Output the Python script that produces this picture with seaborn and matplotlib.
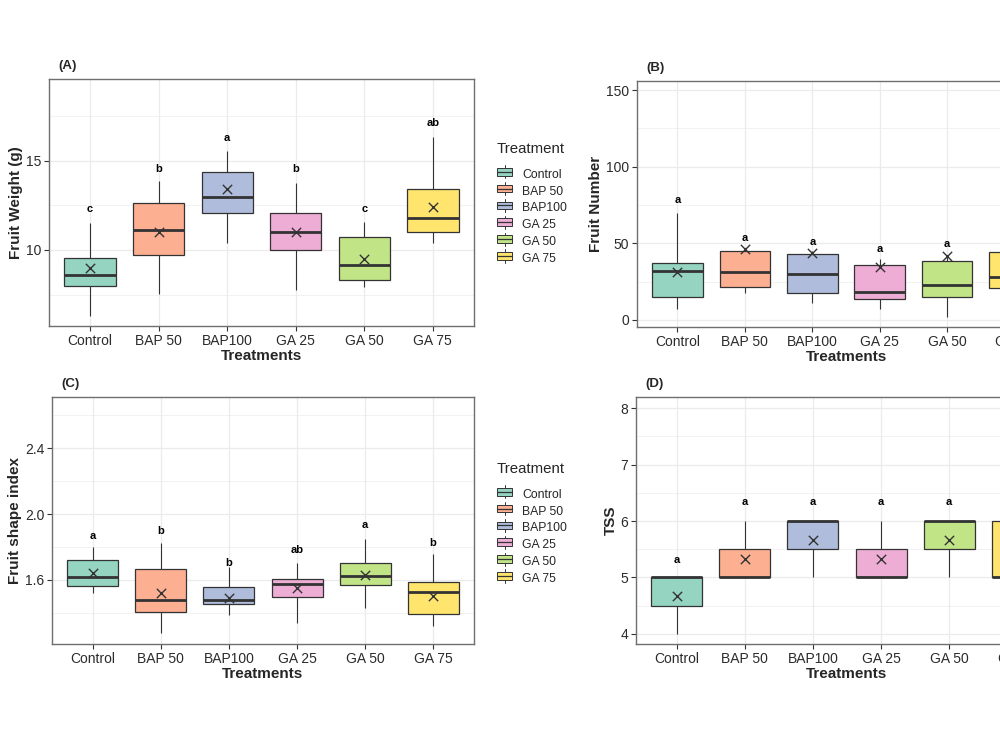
import numpy as np
import pandas as pd
import matplotlib
matplotlib.use("Agg")
import matplotlib.pyplot as plt
from matplotlib.legend_handler import HandlerBase
from matplotlib.patches import Rectangle, Patch
from matplotlib.lines import Line2D
from matplotlib.ticker import FixedLocator, FormatStrFormatter
import seaborn as sns

# ---------------- data ----------------
treatments = ["Control", "BAP 50", "BAP100", "GA 25", "GA 50", "GA 75"]

# (A) Fruit weight (g)
fw_low = [6.33, 7.52, 10.37, 7.77, 7.91, 10.41]
fw_q1 = [7.99, 9.72, 12.05, 10.00, 8.32, 11.02]
fw_med = [8.60, 11.12, 12.98, 11.00, 9.14, 11.81]
fw_q3 = [9.57, 12.61, 14.38, 12.08, 10.74, 13.39]
fw_high = [11.53, 13.85, 15.53, 13.76, 11.58, 16.30]
fw_mean = [8.98, 11.02, 13.41, 10.98, 9.48, 12.39]
fw_letters = ["c", "b", "a", "b", "c", "ab"]
fw_letter_y = [12.29, 14.52, 16.24, 14.52, 12.29, 17.08]

# (B) Fruit number
fn_low = [7.0, 17.8, 10.9, 7.0, 2.2, 12.0]
fn_q1 = [14.8, 21.7, 17.8, 13.5, 14.8, 20.7]
fn_med = [32.0, 31.1, 30.0, 18.5, 22.6, 28.0]
fn_q3 = [37.0, 45.0, 43.3, 35.7, 38.7, 44.4]
fn_high = [70.0, 47.0, 45.0, 39.8, 42.0, 60.0]
fn_mean = [31.3, 46.6, 44.0, 34.3, 41.7, 33.0]
fn_letters = ["a", "a", "a", "a", "a", "a"]
fn_letter_y = [78.3, 53.7, 50.7, 46.1, 49.6, 68.0]

# (C) Fruit shape index
fsi_low = [1.523, 1.276, 1.385, 1.337, 1.432, 1.321]
fsi_q1 = [1.564, 1.406, 1.454, 1.499, 1.570, 1.393]
fsi_med = [1.616, 1.478, 1.478, 1.574, 1.624, 1.525]
fsi_q3 = [1.722, 1.669, 1.556, 1.608, 1.701, 1.588]
fsi_high = [1.802, 1.823, 1.681, 1.705, 1.849, 1.758]
fsi_mean = [1.641, 1.519, 1.489, 1.549, 1.632, 1.503]
fsi_letters = ["a", "b", "b", "ab", "a", "b"]
fsi_letter_y = [1.869, 1.898, 1.705, 1.782, 1.932, 1.827]

# (D) TSS
tss_low = [4.0, 5.0, 5.0, 5.0, 5.0, 5.0]
tss_q1 = [4.5, 5.0, 5.5, 5.0, 5.5, 5.0]
tss_med = [5.0, 5.0, 6.0, 5.0, 6.0, 5.0]
tss_q3 = [5.0, 5.5, 6.0, 5.5, 6.0, 6.0]
tss_high = [5.0, 6.0, 6.0, 6.0, 6.0, 6.0]
tss_mean = [4.67, 5.33, 5.67, 5.33, 5.67, 5.33]
tss_letters = ["a", "a", "a", "a", "a", "a"]
tss_letter_y = [5.31, 6.34, 6.34, 6.34, 6.34, 6.34]

# ---------------- style ----------------
sns.set_style("white")
plt.rcParams["font.family"] = ["Liberation Sans", "DejaVu Sans"]

base = sns.color_palette("Set2", 6)
fill = [tuple(0.7 * np.array(c) + 0.3) for c in base]
EDGE = "#333333"
GRID = "#EBEBEB"

W, H = 1000, 750
fig = plt.figure(figsize=(10, 7.5), dpi=100)


def px_axes(x0, x1, y0, y1):
    return fig.add_axes([x0 / W, 1 - y1 / H, (x1 - x0) / W, (y1 - y0) / H])


class BoxKeyHandler(HandlerBase):
    def create_artists(self, legend, orig, xd, yd, width, height, fontsize, trans):
        fc = orig.get_facecolor()
        cx = xd + width / 2
        bh = height * 0.75
        by = yd + (height - bh) / 2
        rect = Rectangle((xd, by), width, bh, facecolor=fc, edgecolor=EDGE,
                         linewidth=0.7, transform=trans)
        med = Line2D([xd, xd + width], [yd + height / 2] * 2, color=EDGE,
                     linewidth=0.9, transform=trans)
        w1 = Line2D([cx, cx], [yd - height * 0.15, by], color=EDGE,
                    linewidth=0.7, transform=trans)
        w2 = Line2D([cx, cx], [by + bh, yd + height * 1.15], color=EDGE,
                    linewidth=0.7, transform=trans)
        return [w1, w2, rect, med]


def draw_panel(ax, tag, ylabel, low, q1, med, q3, high, mean, letters, letter_y,
               ylim, major, minor, fmt):
    rows = []
    for t, a, b, c, d, e in zip(treatments, low, q1, med, q3, high):
        for v in (a, b, c, d, e):
            rows.append({"Treatment": t, "value": v})
    df = pd.DataFrame(rows)

    ax.set_axisbelow(True)
    sns.boxplot(data=df, x="Treatment", y="value", hue="Treatment",
                order=treatments, hue_order=treatments, palette=fill,
                saturation=1, width=0.75, whis=np.inf, showcaps=False,
                dodge=False, linecolor=EDGE, linewidth=0.9, legend=False,
                medianprops=dict(linewidth=2.0, color=EDGE),
                whiskerprops=dict(linewidth=0.8, color=EDGE), ax=ax)
    mdf = pd.DataFrame({"Treatment": treatments, "mean": mean})
    sns.scatterplot(data=mdf, x="Treatment", y="mean", marker="x",
                    color=EDGE, s=45, linewidth=1.0, ax=ax, zorder=6,
                    legend=False)
    for i, (lab, ly) in enumerate(zip(letters, letter_y)):
        ax.text(i, ly, lab, ha="center", va="center", fontsize=8,
                fontweight="bold", color="black", zorder=7)

    ax.set_xlim(-0.6, 5.6)
    ax.set_ylim(*ylim)
    ax.yaxis.set_major_locator(FixedLocator(major))
    ax.yaxis.set_minor_locator(FixedLocator(minor))
    ax.yaxis.set_major_formatter(FormatStrFormatter(fmt))
    ax.grid(True, which="major", color=GRID, linewidth=0.9)
    ax.grid(True, which="minor", axis="y", color=GRID, linewidth=0.45)
    ax.tick_params(axis="both", which="major", length=3.5, width=0.8,
                   color=EDGE, labelsize=10, labelcolor="#2b2b2b", pad=2,
                   left=True, bottom=True)
    ax.tick_params(axis="y", which="minor", length=0)
    for s in ax.spines.values():
        s.set_color("#6f6f6f")
        s.set_linewidth(1.0)
    ax.set_xlabel("Treatments", fontsize=11, fontweight="bold", labelpad=1)
    ax.set_ylabel(ylabel, fontsize=11, fontweight="bold", labelpad=2)
    ax.text(0.022, 1.03, tag, transform=ax.transAxes, fontsize=9.5,
            fontweight="bold", ha="left", va="bottom")


axA = px_axes(49, 474, 79, 326)
axB = px_axes(637, 1055, 81, 327)
axC = px_axes(52, 474, 397, 644)
axD = px_axes(636, 1058, 397, 644)

draw_panel(axA, "(A)", "Fruit Weight (g)", fw_low, fw_q1, fw_med, fw_q3,
           fw_high, fw_mean, fw_letters, fw_letter_y, (5.75, 19.56),
           [10, 15], [7.5, 12.5, 17.5], "%g")
draw_panel(axB, "(B)", "Fruit Number", fn_low, fn_q1, fn_med, fn_q3,
           fn_high, fn_mean, fn_letters, fn_letter_y, (-4.6, 155.9),
           [0, 50, 100, 150], [25, 75, 125], "%g")
draw_panel(axC, "(C)", "Fruit shape index", fsi_low, fsi_q1, fsi_med, fsi_q3,
           fsi_high, fsi_mean, fsi_letters, fsi_letter_y, (1.211, 2.712),
           [1.6, 2.0, 2.4], [1.4, 1.8, 2.2, 2.6], "%.1f")
draw_panel(axD, "(D)", "TSS", tss_low, tss_q1, tss_med, tss_q3,
           tss_high, tss_mean, tss_letters, tss_letter_y, (3.82, 8.2),
           [4, 5, 6, 7, 8], [4.5, 5.5, 6.5, 7.5], "%g")

handles = [Patch(facecolor=c, edgecolor=EDGE) for c in fill]
for ytop in (142, 462):
    leg = fig.legend(handles, treatments, title="Treatment",
                     loc="upper left", bbox_to_anchor=(497 / W, 1 - ytop / H),
                     frameon=False, fontsize=8.8, title_fontsize=10.8,
                     handler_map={Patch: BoxKeyHandler()},
                     handlelength=1.25, handleheight=0.9, handletextpad=0.8,
                     labelspacing=0.37, borderpad=0, borderaxespad=0,
                     alignment="left")
    leg._legend_box.sep = 9

fig.savefig("out.png", dpi=100)
